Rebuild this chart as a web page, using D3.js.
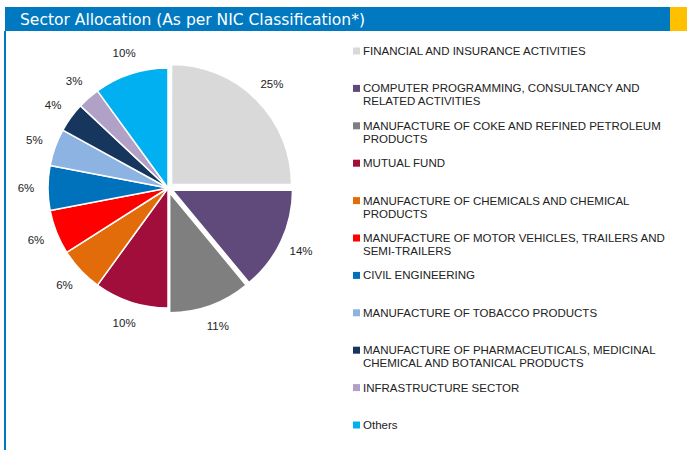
<!DOCTYPE html>
<html>
<head>
<meta charset="utf-8">
<script src="https://cdn.jsdelivr.net/npm/d3@7"></script>
<style>
  html, body { margin: 0; padding: 0; background: #fff; }
  svg { display: block; }
</style>
</head>
<body>
<svg id="chart" width="687" height="450"></svg>
<script>
// Sector allocation, in percent of portfolio
const sectors = [
  "FINANCIAL AND INSURANCE ACTIVITIES",
  "COMPUTER PROGRAMMING, CONSULTANCY AND RELATED ACTIVITIES",
  "MANUFACTURE OF COKE AND REFINED PETROLEUM PRODUCTS",
  "MUTUAL FUND",
  "MANUFACTURE OF CHEMICALS AND CHEMICAL PRODUCTS",
  "MANUFACTURE OF MOTOR VEHICLES, TRAILERS AND SEMI-TRAILERS",
  "CIVIL ENGINEERING",
  "MANUFACTURE OF TOBACCO PRODUCTS",
  "MANUFACTURE OF PHARMACEUTICALS, MEDICINAL CHEMICAL AND BOTANICAL PRODUCTS",
  "INFRASTRUCTURE SECTOR",
  "Others"
];
const weights = [25, 14, 11, 10, 6, 6, 6, 5, 4, 3, 10];
const sliceColors = [
  "#D9D9D9", "#604A7B", "#7F7F7F", "#A20E3C", "#E36C0A", "#FF0000",
  "#0072BB", "#8DB3E2", "#17365D", "#B2A1C7", "#00B0F0"
];
// slices pulled out from the centre
const pulledOut = [true, true, true, false, false, false, false, false, false, false, false];

const titleText = "Sector Allocation (As per NIC Classification*)";

const svg = d3.select("#chart");
const W = 687, H = 450;

// header band
svg.append("rect").attr("x", 5).attr("y", 7).attr("width", 665).attr("height", 24).attr("fill", "#0079C1");
svg.append("rect").attr("x", 670).attr("y", 7).attr("width", 17).attr("height", 24).attr("fill", "#FFC000");
svg.append("rect").attr("x", 4).attr("y", 31).attr("width", 2).attr("height", H - 31).attr("fill", "#0079C1");
svg.append("text")
  .attr("x", 20).attr("y", 25)
  .attr("fill", "#fff")
  .attr("font-family", "'DejaVu Sans Condensed', 'DejaVu Sans', sans-serif")
  .attr("font-size", 16)
  .attr("textLength", 345)
  .attr("lengthAdjust", "spacingAndGlyphs")
  .text(titleText);

// pie
const cx = 168, cy = 188, R = 120, pull = 5;
const data = weights.map((v, i) => ({ name: sectors[i], value: v, color: sliceColors[i], out: pulledOut[i] }));
const pie = d3.pie().value(d => d.value).sort(null);
const arcs = pie(data);
const arc = d3.arc().innerRadius(0).outerRadius(R);

const g = svg.append("g").attr("transform", `translate(${cx},${cy})`);
arcs.forEach(a => {
  const mid = (a.startAngle + a.endAngle) / 2;
  a.mid = mid;
  a.dx = a.data.out ? Math.sin(mid) * pull : 0;
  a.dy = a.data.out ? -Math.cos(mid) * pull : 0;
});

g.selectAll("path.slice").data(arcs).join("path")
  .attr("class", "slice")
  .attr("d", arc)
  .attr("transform", d => `translate(${d.dx},${d.dy})`)
  .attr("fill", d => d.data.color)
  .attr("stroke", "#fff")
  .attr("stroke-width", 1.5)
  .attr("stroke-linejoin", "round");

const labelR = 142;
g.selectAll("text.pct").data(arcs).join("text")
  .attr("class", "pct")
  .attr("x", d => d.dx + Math.sin(d.mid) * labelR)
  .attr("y", d => d.dy - Math.cos(d.mid) * labelR)
  .attr("text-anchor", "middle")
  .attr("dominant-baseline", "central")
  .attr("font-family", "'Liberation Sans', Arial, sans-serif")
  .attr("font-size", 11.5)
  .attr("fill", "#222")
  .text(d => d3.format(".0f")(d.data.value) + "%");

// legend
const legend = svg.append("g").attr("transform", "translate(353,0)");
const rowY = d3.scaleLinear().domain([0, sectors.length - 1]).range([51, 425]);
const maxW = 308, lineH = 13;

data.forEach((d, i) => {
  const y = rowY(i);
  const item = legend.append("g");
  item.append("rect").attr("x", 0).attr("y", y - 3.5).attr("width", 7).attr("height", 7).attr("fill", d.color);
  const t = item.append("text")
    .attr("x", 10)
    .attr("font-family", "'Liberation Sans', Arial, sans-serif")
    .attr("font-size", 11.5)
    .attr("fill", "#222");
  // wrap words to the legend column width
  const words = d.name.split(" ");
  const lines = [];
  let cur = [];
  const probe = t.append("tspan");
  words.forEach(w => {
    const test = cur.concat(w).join(" ");
    probe.text(test);
    if (probe.node().getComputedTextLength() > maxW && cur.length) {
      lines.push(cur.join(" "));
      cur = [w];
    } else {
      cur.push(w);
    }
  });
  lines.push(cur.join(" "));
  probe.remove();
  lines.forEach((ln, k) => {
    t.append("tspan")
      .attr("x", 10)
      .attr("y", y + k * lineH)
      .attr("dy", "0.35em")
      .text(ln);
  });
});
</script>
</body>
</html>
